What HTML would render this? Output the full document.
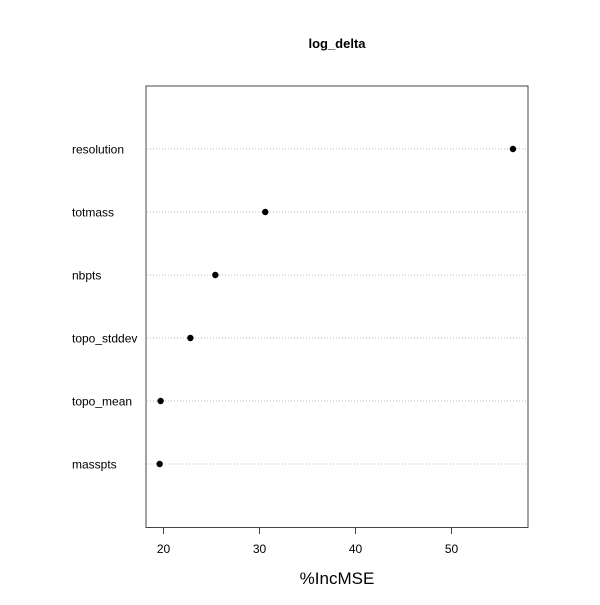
<!DOCTYPE html>
<html><head><meta charset="utf-8"><style>
body{margin:0;background:#fff;}
svg text{font-family:"Liberation Sans",Arial,sans-serif;}
</style></head><body>
<svg id="chart" width="600" height="600" xmlns="http://www.w3.org/2000/svg">
<rect width="600" height="600" fill="#fff"/>
<text x="337" y="48" text-anchor="middle" font-size="13" font-weight="bold">log_delta</text>
<rect x="146" y="86" width="382" height="441.5" fill="none" stroke="#444" stroke-width="1"/>
<g id="rows"></g>
<g id="xaxis"></g>
<text x="337" y="584" text-anchor="middle" font-size="17">%IncMSE</text>
</svg>
<script>
const categories=["resolution","totmass","nbpts","topo_stddev","topo_mean","masspts"];
const values=[56.4,30.6,25.4,22.8,19.7,19.6];
const ticks=[20,30,40,50];
const NS="http://www.w3.org/2000/svg";
const xs=v=>163.5+(v-20)*9.6;
const ys=i=>149+i*63;
const rows=document.getElementById('rows');
function mk(t,a,p){const e=document.createElementNS(NS,t);for(const k in a)e.setAttribute(k,a[k]);p.appendChild(e);return e;}
categories.forEach((c,i)=>{
  const l=mk('line',{x1:147,x2:527,y1:ys(i),y2:ys(i),stroke:'#bbb','stroke-dasharray':'1,2'},rows);
  
  
  const t=mk('text',{x:72,y:ys(i)+4.5,'font-size':12},rows);t.textContent=c;
  
  
  const p=mk('circle',{cx:xs(values[i]),cy:ys(i),r:3.2,fill:'#000'},rows);
  
  
});
const xa=document.getElementById('xaxis');
mk('line',{x1:xs(ticks[0]),x2:xs(ticks[ticks.length-1]),y1:527.5,y2:527.5,stroke:'#444'},xa);
ticks.forEach(v=>{
  const tk=mk('line',{x1:xs(v),x2:xs(v),y1:527.5,y2:534,stroke:'#444'},xa);
  
  
  const t=mk('text',{x:xs(v),y:553,'text-anchor':'middle','font-size':12},xa);t.textContent=v;
  
  
});
</script>
</body></html>
